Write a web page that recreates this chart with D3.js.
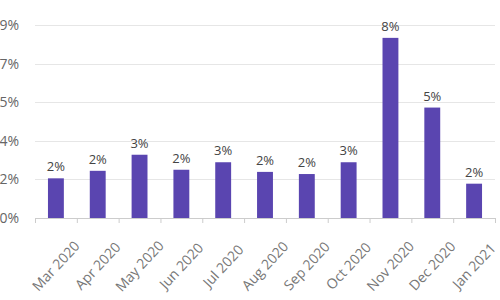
<!DOCTYPE html>
<html>
<head>
<meta charset="utf-8">
<script src="https://cdn.jsdelivr.net/npm/d3@7"></script>
<style>
  body { margin: 0; background: #fff; }
  text { font-family: "Open Sans", "Noto Sans", sans-serif; }
</style>
</head>
<body>
<svg id="chart"></svg>
<script>
var width = 500, height = 300;

// data
var months = ["Mar 2020", "Apr 2020", "May 2020", "Jun 2020", "Jul 2020", "Aug 2020",
              "Sep 2020", "Oct 2020", "Nov 2020", "Dec 2020", "Jan 2021"];
var rates = [1.85, 2.2, 2.95, 2.25, 2.6, 2.15, 2.05, 2.6, 8.4, 5.15, 1.6];
var yTicks = [0, 1.8, 3.6, 5.4, 7.2, 9];

var plotLeft = 35, plotRight = 495, plotTop = 25, plotBottom = 218;

var svg = d3.select("#chart")
    .attr("width", width)
    .attr("height", height);

var x = d3.scaleBand()
    .domain(months)
    .range([plotLeft, plotRight])
    .paddingInner(0.62)
    .paddingOuter(0.31);

var y = d3.scaleLinear()
    .domain([0, 9])
    .range([plotBottom, plotTop]);

// gridlines
svg.append("g")
    .selectAll("line")
    .data(yTicks.slice(1))
    .enter()
    .append("line")
    .attr("x1", plotLeft)
    .attr("x2", plotRight)
    .attr("y1", function(d) { return Math.round(y(d)) + 0.5; })
    .attr("y2", function(d) { return Math.round(y(d)) + 0.5; })
    .style("stroke", "#e6e6e6")
    .style("stroke-width", 1);

// y labels
svg.append("g")
    .selectAll("text")
    .data(yTicks)
    .enter()
    .append("text")
    .attr("x", 19)
    .attr("y", function(d) { return y(d); })
    .attr("dy", "0.35em")
    .style("text-anchor", "end")
    .style("font-size", "14px")
    .style("fill", "#666")
    .text(function(d) { return Math.round(d) + "%"; });

// bars
svg.append("g")
    .selectAll("rect")
    .data(months)
    .enter()
    .append("rect")
    .attr("x", function(d) { return x(d); })
    .attr("y", function(d, i) { return y(rates[i]); })
    .attr("width", x.bandwidth())
    .attr("height", function(d, i) { return y(0) - y(rates[i]); })
    .style("fill", "#5a45b0");

// value labels
svg.append("g")
    .selectAll("text")
    .data(months)
    .enter()
    .append("text")
    .attr("x", function(d) { return x(d) + x.bandwidth() / 2; })
    .attr("y", function(d, i) { return y(rates[i]) - 7; })
    .style("text-anchor", "middle")
    .style("font-size", "13px")
    .style("fill", "#444")
    .text(function(d, i) { return Math.round(rates[i]) + "%"; });

// x axis line and ticks at band edges
svg.append("line")
    .attr("x1", plotLeft)
    .attr("x2", plotRight)
    .attr("y1", plotBottom + 0.5)
    .attr("y2", plotBottom + 0.5)
    .style("stroke", "#ccc");

var step = x.step();
svg.append("g")
    .selectAll("line")
    .data(d3.range(months.length + 1))
    .enter()
    .append("line")
    .attr("x1", function(d) { return plotLeft + 0.5 + d * step; })
    .attr("x2", function(d) { return plotLeft + 0.5 + d * step; })
    .attr("y1", plotBottom)
    .attr("y2", plotBottom + 5)
    .style("stroke", "#ccc");

// rotated month labels
svg.append("g")
    .selectAll("text")
    .data(months)
    .enter()
    .append("text")
    .attr("transform", function(d) {
        return "translate(" + (x(d) + x.bandwidth() / 2) + "," + 266 + ") rotate(-47)";
    })
    .attr("dy", "0.35em")
    .style("text-anchor", "middle")
    .style("font-size", "14px")
    .style("fill", "#777")
    .text(function(d) { return d; });
</script>
</body>
</html>
